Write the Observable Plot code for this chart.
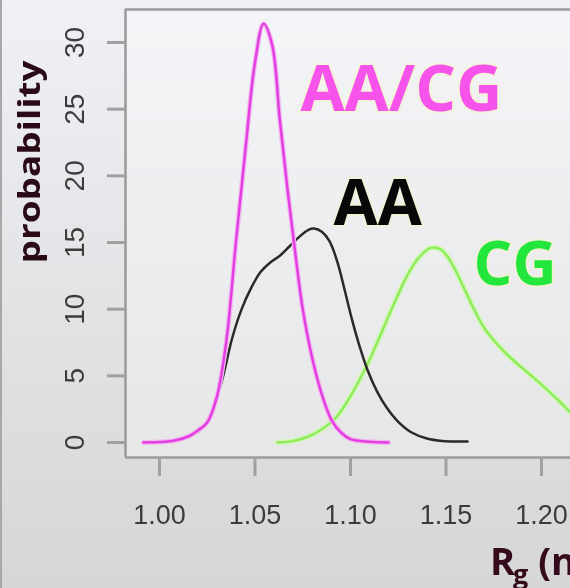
<!DOCTYPE html>
<html><head><meta charset="utf-8">
<script src="https://cdn.jsdelivr.net/npm/d3@7"></script>
<script src="https://cdn.jsdelivr.net/npm/@observablehq/plot@0.6"></script>
<style>
html,body{margin:0;padding:0;}
body{width:570px;height:588px;overflow:hidden;background:linear-gradient(#eff1f5,#d6d6d6);}
#chart{position:relative;width:570px;height:588px;}
#edge{position:absolute;left:0;top:0;width:2px;height:588px;background:#a8a8a8;}
#chart svg{filter:blur(0.5px);display:block;}
</style></head><body><div id="chart"><div id="edge"></div></div>
<script>
// ---- data ----
const xTicks = [1.00, 1.05, 1.10, 1.15, 1.20];
const xTickLabels = ["1.00", "1.05", "1.10", "1.15", "1.20"];
const yTicks = [0, 5, 10, 15, 20, 25, 30];
const yTickLabels = ["0", "5", "10", "15", "20", "25", "30"];

const aacgX = [0.9916, 1.0000, 1.0080, 1.0150, 1.0200, 1.0250, 1.0300, 1.0350, 1.0400, 1.0450, 1.0500, 1.0545, 1.0590, 1.0630, 1.0670, 1.0710, 1.0750, 1.0800, 1.0850, 1.0900, 1.0950, 1.1000, 1.1100, 1.1199];
const aacgY = [0, 0.03, 0.15, 0.45, 0.9, 1.5, 3.4, 7.6, 15.0, 22.0, 28.5, 31.4, 29.8, 24.2, 19.0, 14.3, 10.0, 6.3, 3.6, 1.7, 0.75, 0.25, 0.05, 0];

const aaX = [0.9916, 1.0000, 1.0100, 1.0180, 1.0230, 1.0280, 1.0330, 1.0380, 1.0430, 1.0480, 1.0530, 1.0580, 1.0630, 1.0680, 1.0730, 1.0780, 1.0810, 1.0850, 1.0890, 1.0930, 1.0970, 1.1010, 1.1050, 1.1090, 1.1140, 1.1190, 1.1250, 1.1320, 1.1400, 1.1480, 1.1613];
const aaY = [0.05, 0.08, 0.2, 0.6, 1.2, 2.5, 4.8, 7.8, 10.0, 11.6, 12.8, 13.5, 14.0, 14.7, 15.4, 15.95, 16.05, 15.8, 15.1, 13.6, 11.4, 9.1, 7.1, 5.4, 3.8, 2.6, 1.55, 0.75, 0.3, 0.12, 0.08];

const cgX = [1.0618, 1.0700, 1.0780, 1.0850, 1.0920, 1.0980, 1.1040, 1.1100, 1.1170, 1.1240, 1.1300, 1.1360, 1.1420, 1.1470, 1.1510, 1.1550, 1.1600, 1.1650, 1.1700, 1.1760, 1.1820, 1.1890, 1.1960, 1.2030, 1.2100, 1.2160, 1.2230];
const cgY = [0, 0.12, 0.45, 1.0, 1.8, 3.0, 4.5, 6.2, 8.5, 10.8, 12.6, 13.9, 14.6, 14.5, 13.9, 12.9, 11.4, 9.9, 8.6, 7.5, 6.6, 5.7, 4.85, 3.95, 3.0, 2.15, 1.4];

const labelNames = ["AA/CG", "AA", "CG"];
const labelX = [1.0738, 1.0911, 1.1644];
const labelY = [24.9, 16.3, 11.8];

// ---- styling ----
const colors = {"AA/CG": "#e23ee0", "AA": "#2a2a2a", "CG": "#8fec5a"};
const labelColors = {"AA/CG": "#f553ea", "AA": "#080808", "CG": "#22e63c"};
const labelSizes = {"AA/CG": 64, "AA": 64, "CG": 61};

const toRows = (xs, ys) => xs.map((x, i) => ({x, y: ys[i]}));
const aacg = toRows(aacgX, aacgY);
const aa = toRows(aaX, aaY);
const cg = toRows(cgX, cgY);
const labels = labelNames.map((t, i) => ({t, x: labelX[i], y: labelY[i]}));

const xDomain = [0.9822, 1.21518];
const yDomain = [-1.125, 32.475];
const curve = "catmull-rom";

const plot = Plot.plot({
  width: 570, height: 588,
  marginLeft: 125, marginRight: 0, marginTop: 9, marginBottom: 131,
  style: {background: "none", fontFamily: "'Liberation Sans', Arial, sans-serif"},
  x: {domain: xDomain},
  y: {domain: yDomain},
  marks: [
    Plot.frame({fill: "white", fillOpacity: 0.3, stroke: "none"}),
    Plot.line(cg, {x: "x", y: "y", stroke: "#d6f5c0", strokeWidth: 6, curve, clip: true}),
    Plot.line(cg, {x: "x", y: "y", stroke: colors.CG, strokeWidth: 2.5, curve, clip: true}),
    Plot.line(aa, {x: "x", y: "y", stroke: colors.AA, strokeWidth: 2.5, curve}),
    Plot.line(aacg, {x: "x", y: "y", stroke: "#f2b8f0", strokeWidth: 5, curve}),
    Plot.line(aacg, {x: "x", y: "y", stroke: colors["AA/CG"], strokeWidth: 2.5, curve}),
    Plot.ruleX([xDomain[0]], {stroke: "#9a9a9a", strokeWidth: 2.5}),
    Plot.ruleY(yDomain, {stroke: "#9a9a9a", strokeWidth: 2.5}),
    Plot.axisX(xTicks, {tickSize: 19, tickPadding: 28, fontSize: 27, stroke: "#a0a0a0", strokeWidth: 3, fill: "#3c3c3c", tickFormat: (d, i) => xTickLabels[i], label: null}),
    Plot.axisY(yTicks, {tickSize: 18, stroke: "#a0a0a0", strokeWidth: 3, tickFormat: () => "", label: null}),
    Plot.text(yTicks, {y: d => d, text: (d, i) => yTickLabels[i], frameAnchor: "left", dx: -42, rotate: -90, textAnchor: "middle", lineAnchor: "bottom", fontSize: 28, fill: "#3c3c3c"}),
    Plot.text(labels, {x: "x", y: "y", text: "t", fill: d => labelColors[d.t], fontSize: d => labelSizes[d.t], fontWeight: 700, fontFamily: "'Open Sans', sans-serif", textAnchor: "start", lineAnchor: "bottom", stroke: "#f6f2c4", strokeWidth: 4, strokeOpacity: 0.55})
  ]
});

const svg = d3.select(plot);
svg.append("text")
  .attr("transform", "translate(40,162) rotate(-90)")
  .attr("text-anchor", "middle")
  .attr("font-family", "'Open Sans', sans-serif")
  .attr("font-weight", 700)
  .attr("font-size", 30)
  .attr("fill", "#2b0a18")
  .attr("textLength", 203)
  .attr("lengthAdjust", "spacingAndGlyphs")
  .text("probability");

const xl = svg.append("text")
  .attr("x", 490).attr("y", 575)
  .attr("text-anchor", "start")
  .attr("font-family", "'Open Sans', sans-serif")
  .attr("font-weight", 700)
  .attr("fill", "#350a1c");
xl.append("tspan").attr("font-size", 38).text("R");
xl.append("tspan").attr("font-size", 27).attr("dy", 9).attr("dx", -2).text("g");
xl.append("tspan").attr("font-size", 38).attr("dy", -9).text(" (nm)");

document.getElementById("chart").appendChild(plot);
</script>
</body></html>
